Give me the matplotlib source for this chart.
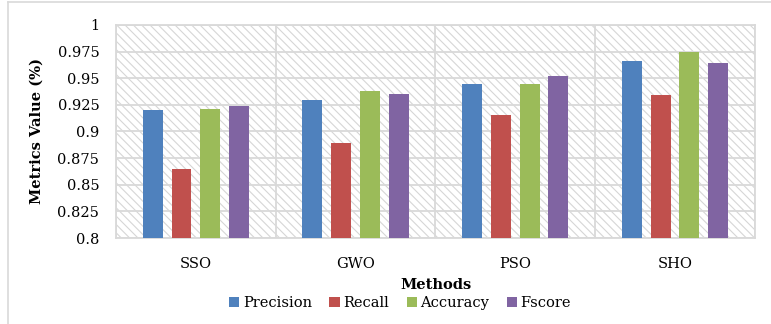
import numpy as np
import matplotlib.pyplot as plt
from matplotlib.patches import Rectangle
from matplotlib.lines import Line2D

plt.rcParams['font.family'] = ['DejaVu Serif', 'Liberation Serif']
plt.rcParams['hatch.linewidth'] = 0.8

methods = ["SSO", "GWO", "PSO", "SHO"]
series = ["Precision", "Recall", "Accuracy", "Fscore"]
precision = [0.920, 0.930, 0.945, 0.966]
recall = [0.865, 0.889, 0.915, 0.934]
accuracy = [0.921, 0.938, 0.945, 0.975]
fscore = [0.924, 0.935, 0.952, 0.964]
colors = ["#4F81BD", "#C0504D", "#9BBB59", "#8064A2"]
yticks = [0.8, 0.825, 0.85, 0.875, 0.9, 0.925, 0.95, 0.975, 1.0]
ytick_labels = ["0.8", "0.825", "0.85", "0.875", "0.9", "0.925", "0.95", "0.975", "1"]

values = [precision, recall, accuracy, fscore]
fs = 10.5

fig = plt.figure(figsize=(7.71, 3.24), dpi=100)
ax = fig.add_axes([0.1505, 0.2654, 0.8285, 0.6576])

# outer chart frame (only top and left edges visible)
frame = "#D9D9D9"
fig.add_artist(Line2D([8 / 771, 1.0], [1 - 2 / 324, 1 - 2 / 324], transform=fig.transFigure,
                      color=frame, linewidth=1.2))
fig.add_artist(Line2D([8 / 771, 8 / 771], [0.0, 1 - 2 / 324], transform=fig.transFigure,
                      color=frame, linewidth=1.2))

# hatched plot background
ax.add_patch(Rectangle((0, 0), 1, 1, transform=ax.transAxes, facecolor="white",
                       edgecolor="#D6D6D6", hatch="\\\\\\\\", linewidth=0, zorder=0))

x = np.arange(len(methods))
width = 0.125
step = 0.18
for i, (name, vals) in enumerate(zip(series, values)):
    ax.bar(x + (i - 1.5) * step, vals, width, color=colors[i], label=name, zorder=3)

ax.set_xlim(-0.5, len(methods) - 0.5)
ax.set_ylim(0.8, 1.0)
ax.set_yticks(yticks)
ax.set_yticklabels(ytick_labels, fontsize=fs)
ax.set_xticks(x)
ax.set_xticklabels(methods, fontsize=fs)
ax.tick_params(axis="x", length=0, pad=14)
ax.tick_params(axis="y", length=0, pad=12)

for y in yticks:
    ax.axhline(y, color=frame, linewidth=1.3, zorder=1)
for b in np.arange(-0.5, len(methods), 1.0):
    ax.axvline(b, color=frame, linewidth=1.3, zorder=1)

for s in ax.spines.values():
    s.set_color(frame)
    s.set_linewidth(1.3)

ax.set_ylabel("Metrics Value (%)", fontsize=fs, fontweight="bold", labelpad=10)
fig.text(435.5 / 771, 1 - 285 / 324, "Methods", fontsize=fs, fontweight="bold",
         ha="center", va="center")

fig.legend(loc="center", bbox_to_anchor=(400 / 771, 1 - 303 / 324), ncol=4, frameon=False,
           fontsize=fs, handlelength=0.7, handleheight=0.7, handletextpad=0.25,
           columnspacing=1.2, borderpad=0)

fig.savefig("out.png", dpi=100)
